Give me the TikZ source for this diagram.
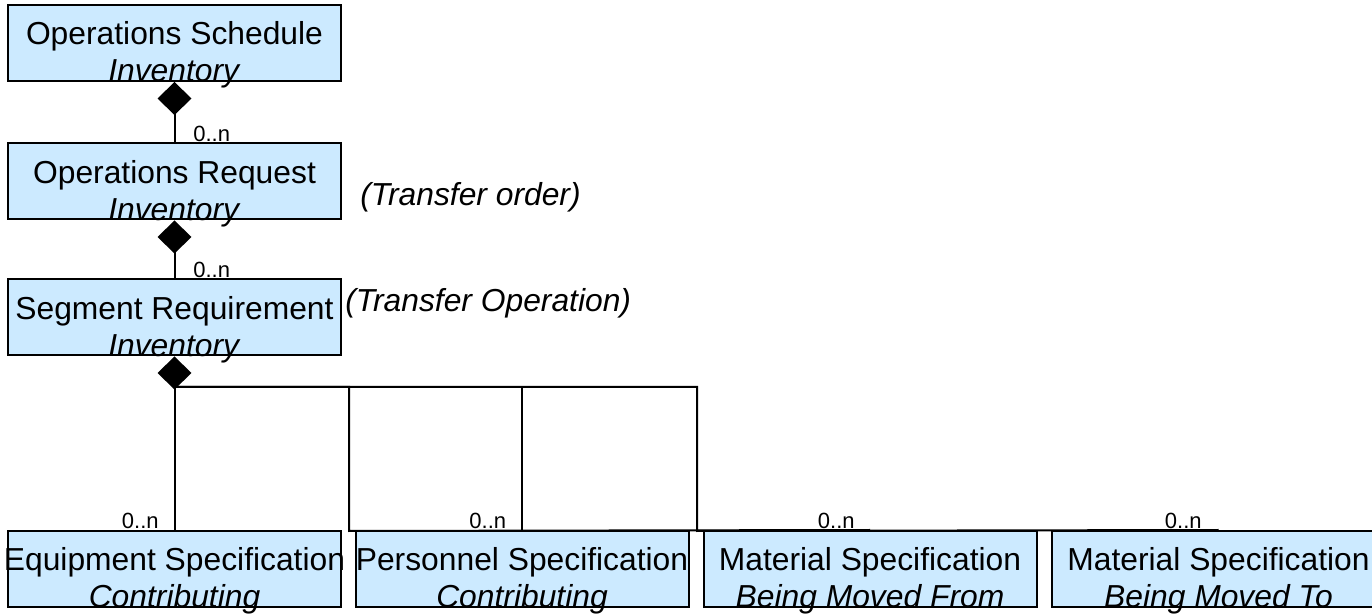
\documentclass[tikz,border=0pt]{standalone}
\usepackage{fontspec}
\setmainfont{Liberation Sans}
\usetikzlibrary{arrows.meta}
\definecolor{boxfill}{RGB}{204,234,255}
\begin{document}
\begin{tikzpicture}[x=0.5pt,y=-0.5pt,
  box/.style={draw=black, line width=1pt, fill=boxfill, minimum width=#1, minimum height=38pt, inner sep=0pt},
  box/.default=166.5pt,
  boxtext/.style={align=center, inner sep=0pt, font=\fontsize{15.9}{18.5}\selectfont},
  note/.style={inner sep=0pt, anchor=west, font=\fontsize{15.9}{18.5}\selectfont\itshape},
  mult/.style={inner sep=0pt, font=\fontsize{11}{12}\selectfont},
  conn/.style={line width=1pt, draw=black},
  comp/.style={conn, {Diamond[length=16.5pt,width=17pt]}-}
]
\useasboundingbox (0,0) rectangle (1372,614);
\clip (0,0) rectangle (1372,614);
% boxes
\node[box] (os) at (174.5,43) {};
\node[box] (or) at (174.5,181.5) {};
\node[box] (sr) at (174.5,317.5) {};
\node[box] (eq) at (174.5,569) {};
\node[box] (pe) at (522,569) {};
\node[box] (mf) at (870,569) {};
\node[box] (mt) at (1218.5,569) {};
% connectors
\draw[comp] (os.south) -- (or.north);
\draw[comp] (or.south) -- (sr.north);
\coordinate (j) at (174.5,387);
\coordinate (k1) at (349,531);
\coordinate (k2) at (697,531);
\draw[comp] (sr.south) -- (j);
\draw[conn] (j) -- (eq.north);
\draw[conn] (j) -| (pe.north);
\draw[conn] (j) -| (k1) -- (mf.north);
\draw[conn] (j) -| (k2) -- (mt.north);
% texts
\node[boxtext] (ost) at ([yshift=-6pt]os.center) {Operations Schedule\\\textit{Inventory}};
\node[boxtext] (ort) at ([yshift=-6pt]or.center) {Operations Request\\\textit{Inventory}};
\node[boxtext] (srt) at ([yshift=-6pt]sr.center) {Segment Requirement\\\textit{Inventory}};
\node[boxtext] (eqt) at ([yshift=-6pt]eq.center) {Equipment Specification\\\textit{Contributing}};
\node[boxtext] (pet) at ([yshift=-6pt]pe.center) {Personnel Specification\\\textit{Contributing}};
\node[boxtext] (mft) at ([yshift=-6pt]mf.center) {Material Specification\\\textit{Being Moved From}};
\node[boxtext] (mtt) at ([yshift=-6pt]mt.center) {Material Specification\\\textit{Being Moved To}};
\node[note] (n1) at (360,197) {(Transfer order)};
\node[note] (n2) at (345,303) {(Transfer Operation)};
% multiplicities
\node[mult, anchor=base west] (m1) at (193,142) {0..n};
\node[mult, anchor=base west] (m2) at (193,278) {0..n};
\node[mult, anchor=base east] (m3) at (159,529) {0..n};
\node[mult, anchor=base east] (m4) at (506.5,529) {0..n};
\node[mult, anchor=base east] (m5) at (855,529) {0..n};
\node[mult, anchor=base east] (m6) at (1202,529) {0..n};
\end{tikzpicture}
\end{document}
